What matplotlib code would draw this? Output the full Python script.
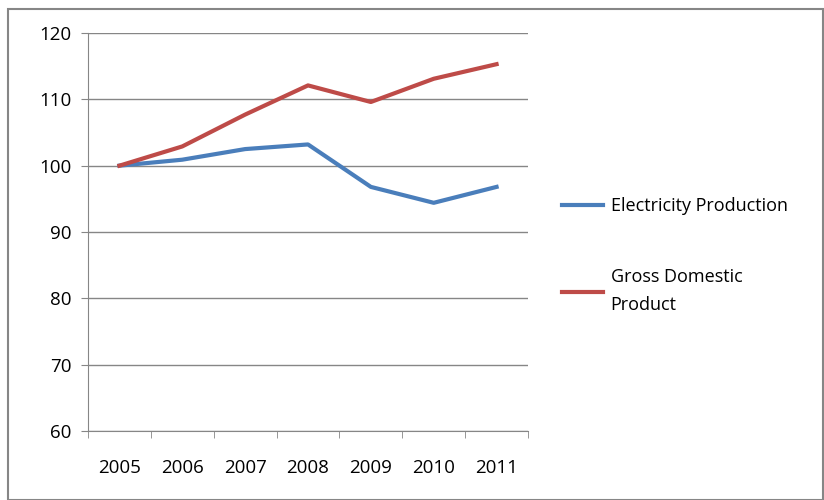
import numpy as np
import matplotlib
matplotlib.use('Agg')
import matplotlib.pyplot as plt
from matplotlib.patches import Rectangle

years = ['2005', '2006', '2007', '2008', '2009', '2010', '2011']
electricity = [100, 100.9, 102.5, 103.2, 96.8, 94.4, 96.8]
gdp = [100, 102.9, 107.7, 112.1, 109.6, 113.1, 115.3]

plt.rcParams['font.family'] = ['Open Sans', 'DejaVu Sans']

fig = plt.figure(figsize=(8.24, 5.0), dpi=100)
# outer chart frame
fig.patches.append(Rectangle((8/824, 0.5/500), 815/824, 491/500, transform=fig.transFigure,
                             fill=False, edgecolor='#868686', lw=1.5))
ax = fig.add_axes([88/824, 1 - 431/500, 440/824, 398/500])

x = np.arange(len(years))
ax.plot(x, electricity, color='#4a7ebb', lw=3, label='Electricity Production')
ax.plot(x, gdp, color='#be4b48', lw=3, label='Gross Domestic\nProduct')

ax.set_xlim(-0.5, len(years) - 0.5)
ax.set_ylim(60, 120)
ax.set_yticks(range(60, 121, 10))
ax.set_xticks(x)
ax.set_xticklabels(years)
ax.set_xticks(np.arange(-0.5, len(years)), minor=True)
ax.tick_params(axis='x', which='major', length=0, pad=20, labelsize=13.5)
ax.tick_params(axis='x', which='minor', length=5, color='#868686', direction='out')
ax.tick_params(axis='y', length=5, color='#868686', pad=7, labelsize=13.5)
ax.grid(axis='y', color='#868686', lw=1)
ax.set_axisbelow(True)
for s in ['top', 'right']:
    ax.spines[s].set_visible(False)
for s in ['left', 'bottom']:
    ax.spines[s].set_color('#868686')

leg = ax.legend(loc='center left', bbox_to_anchor=(1.04, 0.44), frameon=False,
                fontsize=13, handlelength=2.3, labelspacing=2.9, handletextpad=0.4)
for t in leg.get_texts():
    t.set_linespacing(1.75)

fig.savefig('out.png', dpi=100)
